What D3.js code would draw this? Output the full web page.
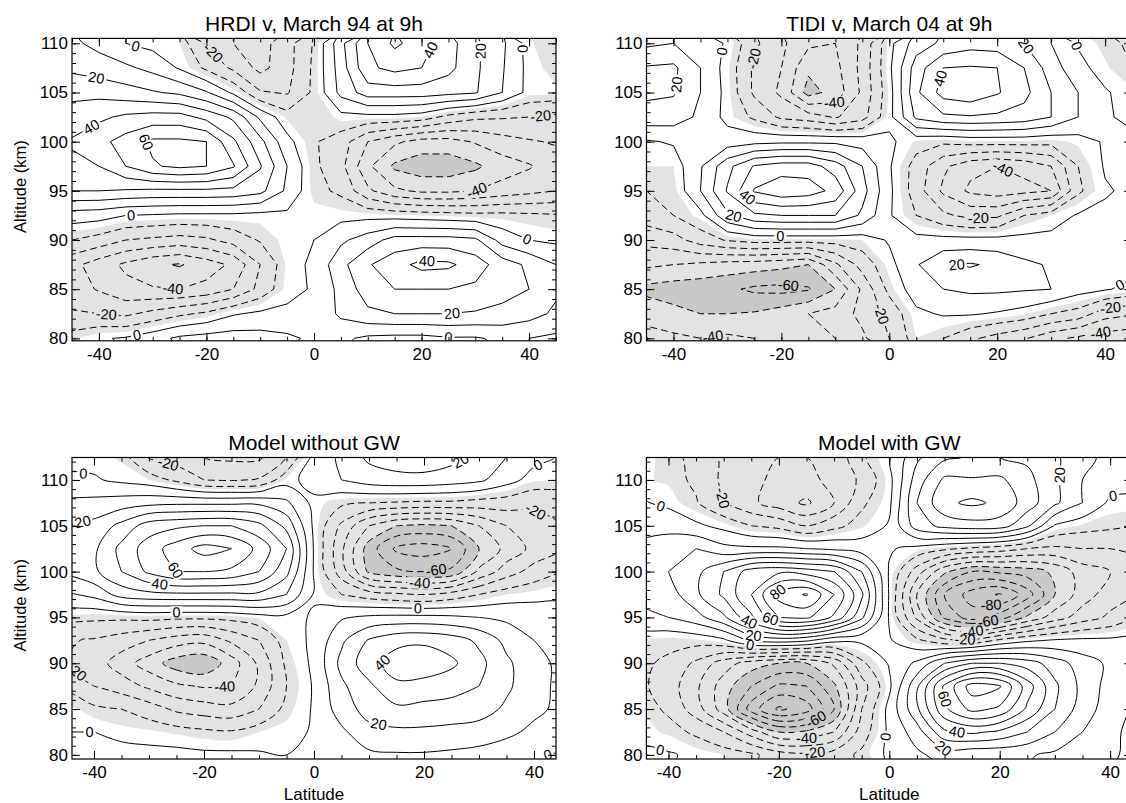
<!DOCTYPE html>
<html>
<head>
<meta charset="utf-8">
<script src="https://cdn.jsdelivr.net/npm/d3@7"></script>
<style>
  body { margin: 0; background: #fff; }
  svg { display: block; }
</style>
</head>
<body>
<svg id="chart" width="1126" height="803"></svg>
<script>
// grille des données : latitude (colonnes) et altitude (lignes, du haut vers le bas)
const lats = [-45, -40, -35, -30, -25, -20, -15, -10, -5, 0, 5, 10, 15, 20, 25, 30, 35, 40, 45];
const altsTop = [110, 107.5, 105, 102.5, 100, 97.5, 95, 92.5, 90, 87.5, 85, 82.5, 80];
const altsBottom = [112.5, 110, 107.5, 105, 102.5, 100, 97.5, 95, 92.5, 90, 87.5, 85, 82.5, 80];

// niveaux des isolignes (m/s) et seuils de grisé
const levels = [-90, -80, -70, -60, -50, -40, -30, -20, -10, 0, 10, 20, 30, 40, 50, 60, 70, 80, 90];
const shadeLevels = [-50, -5];

// graduations
const xMajor = [-40, -20, 0, 20, 40];
const xMinor = [-45, -40, -35, -30, -25, -20, -15, -10, -5, 0, 5, 10, 15, 20, 25, 30, 35, 40, 45];
const yMajor = [80, 85, 90, 95, 100, 105, 110];
const yMinorTop = d3.range(80, 111, 1);
const yMinorBottom = d3.range(80, 113, 1);

// vent méridien (m/s)
const hrdiV = [
  [12, 7, 0, -3, -5, -21, -30, -34, -24, -9, 17, 40, 52, 45, 34, 22, 12, -4, -10],
  [18, 15, 12, 7, -1, -12, -22, -33, -24, -8, 15, 38, 43, 40, 33, 22, 11, -3, -7],
  [27, 27, 24, 21, 18, 11, -2, -19, -21, -8, 13, 25, 25, 25, 23, 21, 10, -3, -4],
  [35, 38, 42, 44, 44, 37, 28, 8, -6, -10, -3, -3, -3, -5, -13, -18, -19, -20, -22],
  [41, 47, 54, 62, 62, 60, 42, 23, 3, -9, -15, -30, -38, -44, -44, -39, -34, -31, -29],
  [38, 40, 50, 59, 62, 60, 51, 31, 10, -8, -17, -38, -52, -56, -56, -52, -45, -41, -35],
  [30, 30, 29, 28, 28, 28, 27, 23, 8, -7, -12, -28, -38, -42, -42, -40, -36, -33, -30],
  [5, 4, 0, -1, -2, -2, -2, -3, -2, -3, -3, -3, -4, -5, -6, -7, -7, -8, -9],
  [-10, -14, -20, -22, -24, -22, -16, -9, -3, 0, 8, 15, 24, 24, 24, 22, 6, 0, -2],
  [-27, -35, -42, -48, -51, -45, -38, -20, -4, 2, 17, 29, 36, 43, 42, 35, 25, 18, 10],
  [-25, -31, -37, -39, -40, -37, -30, -17, -3, 1, 13, 25, 30, 30, 30, 28, 24, 20, 12],
  [-19, -20, -22, -17, -12, -8, -1, 2, 2, 2, 12, 18, 20, 20, 20, 19, 17, 14, 8],
  [-6, -1, 1, 6, 12, 14, 15, 14, 12, 8, 2, -2, -3, -3, -1, -1, 2, 0, -2]
];

const tidiV = [
  [8, 10, 5, -1, -18, -28, -38, -40, -28, -3, 15, 22, 26, 25, 20, 10, -1, -7, -12],
  [21, 22, 10, -4, -22, -30, -48, -43, -27, -2, 25, 40, 41, 40, 30, 15, 3, -4, -10],
  [22, 21, 10, -3, -22, -32, -54, -46, -28, -4, 28, 44, 47, 41, 33, 20, 10, 1, -4],
  [16, 15, 8, -3, -12, -22, -25, -31, -24, -3, 22, 28, 29, 28, 26, 20, 10, 1, -2],
  [-1, 1, 2, 5, 7, 8, 8, 8, 6, 2, -6, -8, -6, -6, -6, -7, -4, 1, 2],
  [-5, -5, 9, 27, 41, 45, 45, 35, 20, 1, -14, -28, -37, -40, -37, -30, -10, 1, 3],
  [-10, -7, 10, 31, 51, 57, 55, 47, 24, 2, -15, -32, -42, -45, -43, -40, -12, -1, 2],
  [-15, -10, -3, 18, 28, 30, 30, 30, 18, 1, -10, -18, -23, -22, -10, -5, 1, 2, 3],
  [-27, -24, -15, -9, -6, -6, -6, -6, -5, 1, 3, 3, 3, 3, 3, 3, 3, 2, 1],
  [-38, -40, -42, -44, -45, -47, -50, -32, -16, -3, 9, 19, 21, 18, 12, 9, 8, 6, 4],
  [-53, -55, -56, -58, -62, -63, -61, -50, -28, -7, 5, 10, 12, 12, 11, 10, 4, 1, -3],
  [-43, -47, -50, -50, -49, -45, -40, -36, -27, -17, -2, 1, 1, -1, -4, -10, -14, -26, -29],
  [-37, -38, -40, -38, -40, -42, -42, -40, -32, -20, -5, -10, -18, -24, -29, -37, -42, -45, -47]
];

const modelNoGwV = [
  [-2, -3, -6, -21, -25, -30, -32, -32, -20, 3, 12, 22, 25, 26, 23, 18, 10, 3, -1],
  [1, 1, -2, -5, -12, -20, -21, -19, -4, 5, 10, 15, 17, 17, 15, 12, 4, -4, -4],
  [12, 13, 15, 17, 18, 18, 18, 18, 12, -3, -8, -10, -11, -12, -12, -14, -15, -18, -20],
  [20, 23, 33, 45, 48, 50, 50, 43, 27, -2, -22, -40, -50, -52, -50, -40, -30, -24, -20],
  [27, 28, 43, 55, 65, 74, 70, 57, 40, -1, -28, -55, -72, -75, -70, -50, -37, -27, -20],
  [22, 28, 40, 52, 60, 60, 58, 50, 33, -1, -25, -52, -58, -60, -58, -38, -25, -16, -10],
  [8, 13, 24, 27, 28, 28, 28, 28, 20, -1, -10, -15, -18, -20, -16, -10, -5, -3, -2],
  [-8, -8, -8, -7, -8, -8, -7, -4, -3, 1, 9, 12, 13, 13, 12, 10, 8, 6, 4],
  [-19, -21, -25, -30, -35, -37, -28, -20, -5, 2, 18, 31, 37, 38, 35, 28, 17, 10, 6],
  [-20, -25, -35, -45, -55, -58, -45, -28, -8, 2, 23, 36, 45, 47, 42, 33, 22, 13, 8],
  [-13, -20, -25, -32, -38, -41, -40, -28, -10, 1, 18, 28, 38, 36, 34, 30, 22, 13, 8],
  [-3, -8, -10, -15, -22, -25, -27, -20, -7, 1, 15, 24, 28, 27, 26, 25, 18, 12, 8],
  [0, 0, -3, -4, -6, -8, -9, -5, -3, 1, 8, 17, 18, 18, 17, 15, 12, 8, 5],
  [5, 5, 4, 3, 3, 2, 2, 1, 0, 2, 5, 8, 9, 9, 8, 7, 5, 1, -1]
];

const modelGwV = [
  [-3, -7, -13, -22, -27, -30, -30, -28, -12, -1, 18, 28, 31, 30, 28, 22, 12, 8, 5],
  [-4, -6, -12, -22, -28, -32, -32, -28, -18, -3, 25, 42, 41, 42, 33, 22, 10, 5, 3],
  [1, -2, -9, -20, -28, -35, -42, -30, -12, -2, 30, 48, 52, 48, 35, 22, 10, -2, -3],
  [7, 6, 2, -3, -10, -13, -20, -13, -6, 1, 25, 33, 36, 35, 22, -1, -6, -8, -10],
  [12, 17, 20, 13, 12, 12, 10, 8, 5, 1, -3, -8, -12, -15, -20, -22, -20, -20, -18],
  [14, 20, 27, 40, 55, 58, 55, 50, 30, -1, -25, -48, -60, -58, -55, -48, -35, -30, -27],
  [12, 15, 28, 42, 60, 84, 91, 70, 42, -1, -40, -70, -85, -91, -75, -50, -35, -25, -20],
  [8, 10, 16, 28, 48, 70, 72, 58, 32, -1, -32, -62, -75, -65, -48, -35, -25, -18, -12],
  [-7, -7, -6, -2, 12, 15, 12, 3, 2, 1, -8, -17, -18, -8, -2, 1, 2, 2, 3],
  [-8, -12, -22, -35, -45, -50, -50, -38, -12, 1, 12, 30, 40, 40, 35, 25, 15, 8, 5],
  [-8, -15, -28, -45, -60, -72, -70, -52, -25, -2, 28, 62, 85, 81, 55, 32, 17, 6, 1],
  [-5, -12, -25, -45, -75, -92, -85, -60, -20, 3, 28, 58, 73, 68, 48, 30, 15, 5, -2],
  [-3, -6, -12, -20, -35, -50, -48, -40, -15, 2, 15, 38, 42, 38, 30, 20, 10, 2, -3],
  [2, 1, -2, -5, -8, -15, -18, -15, -8, 2, 8, 14, 12, 12, 11, 8, 4, 1, -2]
];

// étiquettes des isolignes : [latitude, altitude, valeur]
const hrdiLabels = [
  [-33.3, 109.4, 0], [-40.5, 106.4, 20], [-41.7, 101.8, 40], [-33.3, 99.5, 60], [-34, 92.6, 0],
  [-26.2, 85.2, -40], [-38.6, 82.6, -20], [-33, 80.5, 0], [-19.4, 108.7, -20], [22.8, 109, 40],
  [30.9, 109.2, 20], [37.4, 109.4, 0], [42.1, 102.8, -20], [30.3, 95, -40], [39.9, 90.4, 0],
  [21, 87.6, 40], [25.6, 82.9, 20], [25, 80.2, 0]
];
const tidiLabels = [
  [-39.1, 105.8, 20], [-31.4, 109.2, 0], [-25.5, 108.5, -20], [-10.1, 103.3, -40], [10.3, 106.3, 40],
  [24.5, 109.4, 20], [34.1, 109.6, 0], [-26.7, 94.1, 40], [-28.9, 92.4, 20], [-20.2, 90.5, 0],
  [20.2, 96.2, -40], [16.5, 92.2, -20], [11.9, 87.6, 20], [42.4, 85.8, 0], [40.9, 83.6, -20],
  [39, 81.1, -40], [-18.7, 85.5, -60], [-32.9, 80.9, -40], [-0.8, 82.6, -20]
];
const modelNoGwLabels = [
  [-26.8, 111.1, -20], [-42, 110.3, 0], [-42, 105.3, 20], [-26.2, 99.8, 60], [-28.1, 98.4, 40],
  [-25, 95.8, 0], [27.1, 111.6, 20], [41, 111.3, 0], [40.4, 106.7, -20], [22.2, 100.2, -60],
  [19.2, 98.5, -40], [18.9, 96, 0], [12.5, 90, 40], [11.9, 83.8, 20], [41.6, 80.4, 0],
  [-42.6, 89.5, -20], [-16.2, 86.8, -40], [-40.8, 82.2, 0]
];
const modelGwLabels = [
  [-41.5, 106.9, 0], [-30.4, 108, -20], [31.5, 110.5, 20], [40.6, 108, 0], [-21, 98.4, 80],
  [-21.9, 94.2, 60], [-25.8, 94, 40], [-24.6, 92.9, 20], [-25.2, 92, 0], [18.5, 95.9, -80],
  [17.9, 94.65, -60], [15.2, 93.45, -40], [13.7, 92.4, -20], [9.5, 86, 60], [12.2, 82.2, 40],
  [9.8, 80.7, 20], [-1.1, 82, 0], [-13.2, 83.8, -60], [-15, 81.6, -40], [-13.5, 80.4, -20],
  [-41.5, 80.5, 0]
];

const fontFamily = '"Liberation Sans", Arial, Helvetica, sans-serif';
const lightGrey = "#e3e3e3";
const darkGrey = "#c8c8c8";

// Les 4 panneaux (les sorties du modèle sont tracées avec des courbes lissées)
const panels = [
  { title: "HRDI v, March 94 at 9h", grid: hrdiV, alts: altsTop, labels: hrdiLabels, smooth: false,
    box: { x0: 72, x1: 556, y0: 38.4, y1: 340.8 }, latDomain: [-45, 45], altDomain: [79.75, 110.5],
    yMinor: yMinorTop, titleY: 31, yTitle: true, xTitle: false },
  { title: "TIDI v, March 04 at 9h", grid: tidiV, alts: altsTop, labels: tidiLabels, smooth: false,
    box: { x0: 646.5, x1: 1132.1, y0: 38.4, y1: 340.8 }, latDomain: [-45, 45], altDomain: [79.75, 110.5],
    yMinor: yMinorTop, titleY: 31, yTitle: false, xTitle: false },
  { title: "Model without GW", grid: modelNoGwV, alts: altsBottom, labels: modelNoGwLabels, smooth: true,
    box: { x0: 72, x1: 556, y0: 457.5, y1: 759 }, latDomain: [-44, 44], altDomain: [79.55, 112.45],
    yMinor: yMinorBottom, titleY: 450, yTitle: true, xTitle: true },
  { title: "Model with GW", grid: modelGwV, alts: altsBottom, labels: modelGwLabels, smooth: true,
    box: { x0: 646.4, x1: 1132.2, y0: 457.5, y1: 759 }, latDomain: [-44, 44], altDomain: [79.55, 112.45],
    yMinor: yMinorBottom, titleY: 450, yTitle: false, xTitle: true }
];

// décalage des coordonnées de d3.contours (valeur k placée en k ou en k+0.5)
const probe = d3.contours().size([2, 1]).thresholds([0.5])([0, 1]);
let probeMin = Infinity;
probe[0].coordinates.forEach(poly => poly.forEach(ring => ring.forEach(pt => { probeMin = Math.min(probeMin, pt[0]); })));
const off = probeMin - 0.5;

const svg = d3.select("#chart");
const defs = svg.append("defs");
const smoothLine = d3.line().curve(d3.curveCatmullRomClosed.alpha(0.5));

panels.forEach(function (p, pi) {
  const b = p.box;
  const x = d3.scaleLinear().domain(p.latDomain).range([b.x0, b.x1]);
  const y = d3.scaleLinear().domain(p.altDomain).range([b.y1, b.y0]);
  const n = lats.length, m = p.alts.length;
  const values = p.grid.flat();
  const latStep = lats[1] - lats[0];
  const altStep = p.alts[1] - p.alts[0];

  const toPx = (gx, gy) => [x(lats[0] + (gx - off) * latStep), y(p.alts[0] + (gy - off) * altStep)];
  const onEdge = (pt) => pt[0] <= 0 || pt[0] >= n || pt[1] <= 0 || pt[1] >= m;
  const linear = d3.geoPath(d3.geoTransform({
    point: function (a, c) { const q = toPx(a, c); this.stream.point(q[0], q[1]); }
  }));
  function path(geom) {
    if (!p.smooth) return linear(geom);
    let s = "";
    geom.coordinates.forEach(poly => poly.forEach(ring => {
      const pts = ring.slice(0, -1).map(pt => toPx(pt[0], pt[1]));
      if (pts.length > 2) s += smoothLine(pts);
    }));
    return s;
  }

  const lines = d3.contours().size([n, m]).thresholds(levels)(values);
  const shade = d3.contours().size([n, m]).thresholds(shadeLevels)(values);

  defs.append("clipPath").attr("id", "clip" + pi)
    .append("rect").attr("x", b.x0).attr("y", b.y0).attr("width", b.x1 - b.x0).attr("height", b.y1 - b.y0);

  const g = svg.append("g");
  const plot = g.append("g").attr("clip-path", `url(#clip${pi})`);

  // grisé : foncé partout, clair pour v >= -50, blanc pour v >= -5
  plot.append("rect").attr("x", b.x0).attr("y", b.y0).attr("width", b.x1 - b.x0).attr("height", b.y1 - b.y0)
    .attr("fill", darkGrey);
  plot.append("path").attr("d", path(shade[0])).attr("fill", lightGrey).attr("fill-rule", "evenodd");
  plot.append("path").attr("d", path(shade[1])).attr("fill", "#fff").attr("fill-rule", "evenodd");

  // isolignes (tirets pour les valeurs négatives)
  const linesG = plot.append("g");
  linesG.selectAll("path")
    .data(lines.filter(d => d.coordinates.length > 0))
    .enter()
    .append("path")
    .attr("d", d => path(d))
    .attr("fill", "none")
    .attr("stroke", "#000")
    .attr("stroke-width", 1)
    .attr("stroke-dasharray", d => d.value < 0 ? "7,4" : null);

  // étiquettes collées sur l'isoligne la plus proche
  const labelG = plot.append("g").attr("font-family", fontFamily).attr("font-size", 14.5).attr("fill", "#000");
  const holes = [];
  p.labels.forEach(function (lab) {
    const c = lines.find(d => d.value === lab[2]);
    let px = x(lab[0]), py = y(lab[1]), ang = 0;
    let best = Infinity, bx = px, by = py, bang = 0;
    c.coordinates.forEach(poly => poly.forEach(ring => {
      for (let i = 0; i < ring.length - 1; i++) {
        if (onEdge(ring[i]) || onEdge(ring[i + 1])) continue;
        const p1 = toPx(ring[i][0], ring[i][1]), p2 = toPx(ring[i + 1][0], ring[i + 1][1]);
        const dx = p2[0] - p1[0], dy = p2[1] - p1[1], l2 = dx * dx + dy * dy;
        if (l2 === 0) continue;
        let t = ((px - p1[0]) * dx + (py - p1[1]) * dy) / l2;
        t = Math.max(0, Math.min(1, t));
        const qx = p1[0] + t * dx, qy = p1[1] + t * dy;
        const d2 = (qx - px) * (qx - px) + (qy - py) * (qy - py);
        if (d2 < best) { best = d2; bx = qx; by = qy; bang = Math.atan2(dy, dx) * 180 / Math.PI; }
      }
    }));
    if (best < 900) {
      px = bx; py = by; ang = bang;
      if (ang > 90) ang -= 180;
      if (ang < -90) ang += 180;
    }
    const t = labelG.append("text")
      .attr("transform", `translate(${px},${py}) rotate(${ang})`)
      .attr("text-anchor", "middle")
      .attr("dy", "0.35em")
      .text(String(lab[2]));
    holes.push({ px: px, py: py, ang: ang, w: t.node().getComputedTextLength() });
  });

  // masque pour couper les lignes sous les étiquettes
  const mask = defs.append("mask").attr("id", "mask" + pi).attr("maskUnits", "userSpaceOnUse")
    .attr("x", 0).attr("y", 0).attr("width", 1126).attr("height", 803);
  mask.append("rect").attr("x", 0).attr("y", 0).attr("width", 1126).attr("height", 803).attr("fill", "#fff");
  holes.forEach(h => {
    mask.append("rect")
      .attr("x", -h.w / 2 - 2).attr("y", -6).attr("width", h.w + 4).attr("height", 12)
      .attr("transform", `translate(${h.px},${h.py}) rotate(${h.ang})`)
      .attr("fill", "#000");
  });
  linesG.attr("mask", `url(#mask${pi})`);

  // axes : graduations intérieures sur les 4 côtés
  const xMinorIn = xMinor.filter(v => v >= p.latDomain[0] && v <= p.latDomain[1]);
  const fmt = d => String(d);

  function styleAxis(sel) {
    sel.select(".domain").remove();
    sel.attr("font-family", fontFamily).attr("font-size", 17);
    sel.selectAll("text").attr("fill", "#000");
    sel.selectAll("line").attr("stroke", "#000");
  }

  g.append("g").attr("transform", `translate(0,${b.y1})`)
    .call(d3.axisBottom(x).tickValues(xMinorIn).tickSizeInner(-4).tickSizeOuter(0).tickFormat("")).call(styleAxis);
  g.append("g").attr("transform", `translate(0,${b.y1})`)
    .call(d3.axisBottom(x).tickValues(xMajor).tickSizeInner(-8).tickSizeOuter(0).tickPadding(7).tickFormat(fmt)).call(styleAxis);
  g.append("g").attr("transform", `translate(0,${b.y0})`)
    .call(d3.axisTop(x).tickValues(xMinorIn).tickSizeInner(-4).tickSizeOuter(0).tickFormat("")).call(styleAxis);
  g.append("g").attr("transform", `translate(0,${b.y0})`)
    .call(d3.axisTop(x).tickValues(xMajor).tickSizeInner(-8).tickSizeOuter(0).tickFormat("")).call(styleAxis);

  g.append("g").attr("transform", `translate(${b.x0},0)`)
    .call(d3.axisLeft(y).tickValues(p.yMinor).tickSizeInner(-4).tickSizeOuter(0).tickFormat("")).call(styleAxis);
  g.append("g").attr("transform", `translate(${b.x0},0)`)
    .call(d3.axisLeft(y).tickValues(yMajor).tickSizeInner(-8).tickSizeOuter(0).tickPadding(4).tickFormat(fmt)).call(styleAxis);
  g.append("g").attr("transform", `translate(${b.x1},0)`)
    .call(d3.axisRight(y).tickValues(p.yMinor).tickSizeInner(-4).tickSizeOuter(0).tickFormat("")).call(styleAxis);
  g.append("g").attr("transform", `translate(${b.x1},0)`)
    .call(d3.axisRight(y).tickValues(yMajor).tickSizeInner(-8).tickSizeOuter(0).tickFormat("")).call(styleAxis);

  // cadre
  g.append("rect").attr("x", b.x0).attr("y", b.y0).attr("width", b.x1 - b.x0).attr("height", b.y1 - b.y0)
    .attr("fill", "none").attr("stroke", "#000").attr("stroke-width", 1.2);

  // titres
  g.append("text").attr("x", x(0)).attr("y", p.titleY)
    .attr("text-anchor", "middle").attr("font-family", fontFamily).attr("font-size", 21)
    .text(p.title);
  if (p.yTitle) {
    g.append("text")
      .attr("transform", `translate(26,${(b.y0 + b.y1) / 2 - 3}) rotate(-90)`)
      .attr("text-anchor", "middle").attr("font-family", fontFamily).attr("font-size", 16.5)
      .text("Altitude (km)");
  }
  if (p.xTitle) {
    g.append("text").attr("x", x(0)).attr("y", 800)
      .attr("text-anchor", "middle").attr("font-family", fontFamily).attr("font-size", 17)
      .text("Latitude");
  }
});
</script>
</body>
</html>
